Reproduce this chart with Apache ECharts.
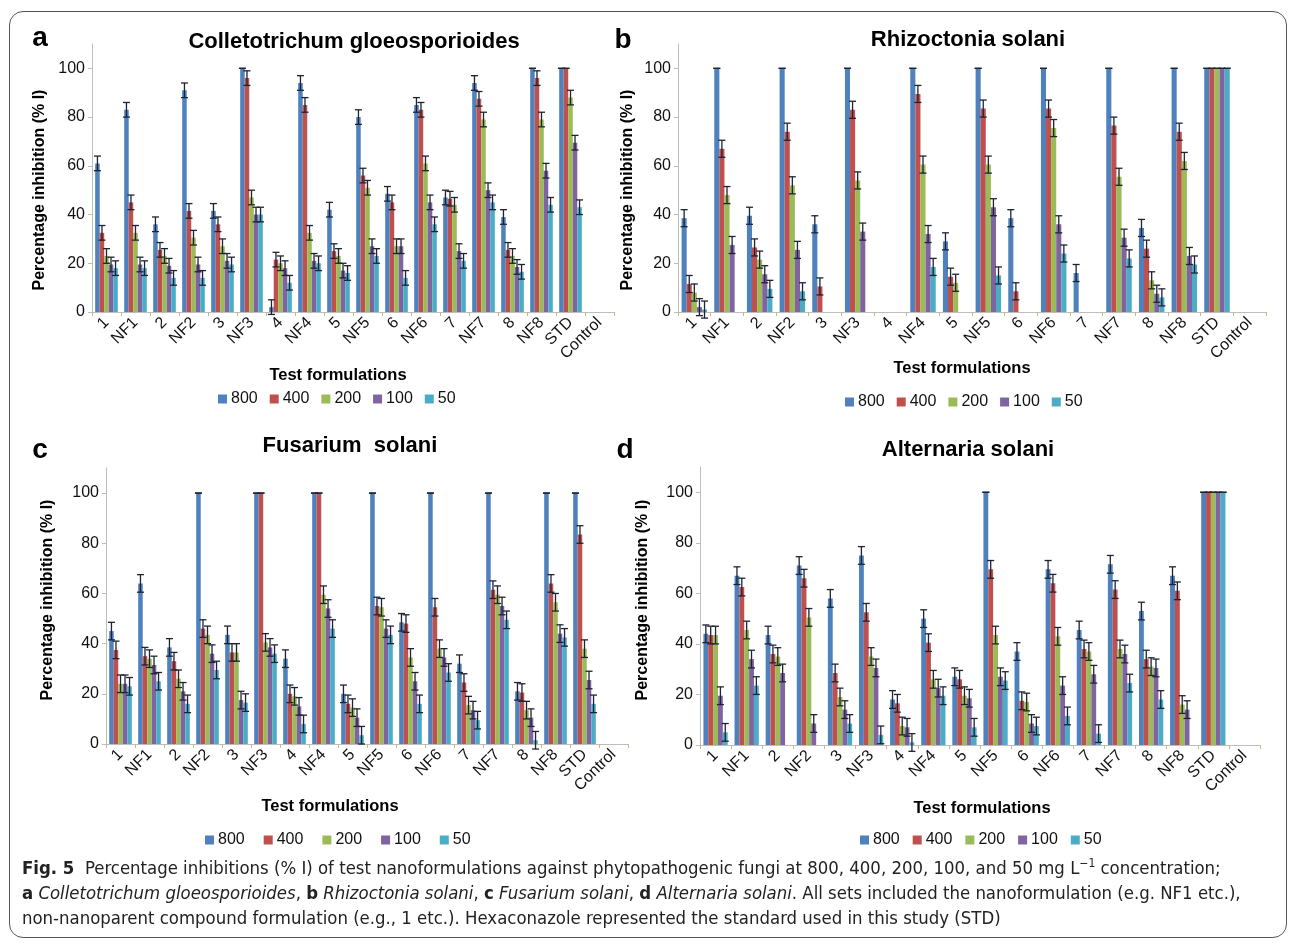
<!DOCTYPE html>
<html><head><meta charset="utf-8">
<script src="https://cdn.jsdelivr.net/npm/echarts@6/dist/echarts.min.js"></script>
<style>
html,body{margin:0;padding:0;background:#fff;}
#chart{position:absolute;left:0;top:0;width:1295px;height:944px;}
#frame{position:absolute;left:9px;top:11px;width:1276px;height:925px;border:1px solid #555;border-radius:14px;pointer-events:none;}
#caption{position:absolute;left:22px;top:855px;font-family:'Liberation Sans Narrow','DejaVu Sans Condensed','Liberation Sans',sans-serif;font-size:18.4px;line-height:25px;color:#222;white-space:nowrap;}
#caption sup{font-size:12px;line-height:0;}
</style></head><body>
<div id="chart"></div>
<div id="frame"></div>
<div id="caption"><b>Fig. 5</b>&nbsp; Percentage inhibitions (% I) of test nanoformulations against phytopathogenic fungi at 800, 400, 200, 100, and 50 mg L<sup>&minus;1</sup> concentration;<br><b>a</b> <i>Colletotrichum gloeosporioides</i>, <b>b</b> <i>Rhizoctonia solani</i>, <b>c</b> <i>Fusarium solani</i>, <b>d</b> <i>Alternaria solani</i>. All sets included the nanoformulation (e.g. NF1 etc.),<br>non-nanoparent compound formulation (e.g., 1 etc.). Hexaconazole represented the standard used in this study (STD)</div>
<script>
// ---------- DATA ----------
const categories = ['1','NF1','2','NF2','3','NF3','4','NF4','5','NF5','6','NF6','7','NF7','8','NF8','STD','Control'];
const concentrations = ['800','400','200','100','50'];
const yTicks = [0,20,40,60,80,100];

// a: Colletotrichum gloeosporioides
const a800 = [61, 83, 36, 91, 41.5, 100, 2, 94, 42, 80, 48.5, 85, 47, 94, 39, 100, 100, 0];
const a400 = [32.5, 45, 25.5, 41.5, 36, 96, 21.5, 85, 25, 56, 45, 83, 46.5, 87.5, 25.5, 96, 100, 0];
const a200 = [23, 32.5, 23, 30.5, 27, 47, 20, 32.5, 23, 51, 27, 61, 44, 79, 23, 79, 88, 0];
const a100 = [19.5, 19.5, 19, 19.5, 21, 40, 18, 21, 17, 27, 27, 45, 25, 50, 18.5, 58, 69.5, 0];
const a50  = [18, 18, 14, 14, 19.5, 40, 12, 20, 16, 23, 14, 36, 21, 45, 16.5, 44, 43, 0];
const errA = 3;

// b: Rhizoctonia solani
const b800 = [38.5, 100, 39.5, 100, 36, 100, 0, 100, 29, 100, 38.5, 100, 16, 100, 34.5, 100, 100, 0];
const b400 = [11.5, 67, 26.5, 74, 10.5, 83, 0, 89.5, 14.5, 83.5, 8.5, 83.5, 0, 76.5, 26, 74, 100, 0];
const b200 = [8, 48, 21.5, 52, 0, 54, 0, 60.5, 12, 60.5, 0, 75.5, 0, 55.5, 13, 62, 100, 0];
const b100 = [2, 27.5, 15.5, 25.5, 0, 33, 0, 32, 0, 43, 0, 36, 0, 30.5, 7.5, 23, 100, 0];
const b50  = [1, 0, 9.5, 8.5, 0, 0, 0, 18.5, 0, 15, 0, 24, 0, 22, 6, 19.5, 100, 0];
const errB = 3.5;

// c: Fusarium solani
const c800 = [45, 64, 38.5, 100, 43.5, 100, 34, 100, 20, 100, 48.5, 100, 32, 100, 21, 100, 100, 0];
const c400 = [37.5, 35, 33, 46, 36.5, 100, 20, 100, 16, 55, 48, 54.5, 24.5, 61.5, 20.5, 64, 83.5, 0];
const c200 = [24, 34, 26, 43.5, 36.5, 40.5, 19, 59.5, 14.5, 54.5, 34.5, 38, 15.5, 59.5, 13.5, 56.5, 38, 0];
const c100 = [24, 31.5, 21, 36, 17.5, 38.5, 15, 54, 10.5, 46, 25, 34.5, 13.5, 55, 10.5, 44, 25.5, 0];
const c50  = [23, 25, 16, 29.5, 16.5, 36, 8, 46, 3.5, 43.5, 16, 28.5, 9.5, 49.5, 1.5, 42.5, 16, 0];
const errC = 3.5;

// d: Alternaria solani
const d800 = [44, 67, 43.5, 71, 58, 75, 18, 50, 27, 100, 37, 69.5, 45.5, 71.5, 53, 67, 100, 0];
const d400 = [43.5, 62.5, 36, 66, 28.5, 52.5, 16.5, 40.5, 26, 69.5, 17.5, 64, 38, 61.5, 34, 61, 100, 0];
const d200 = [43.5, 45.5, 35, 50.5, 19, 35, 7.5, 26, 19.5, 43.5, 17, 43, 37, 38, 31, 16, 100, 0];
const d100 = [19.5, 34, 28.5, 8.5, 14, 30.5, 7, 22.5, 18.5, 27, 8.5, 23.5, 28, 36, 30.5, 14, 100, 0];
const d50  = [5, 23.5, 0, 0, 8.5, 4, 1, 19.5, 7, 25.5, 7.5, 11.5, 4.5, 24.5, 18, 0, 100, 0];
const errD = 3.5;

// ---------- STYLE / LAYOUT ----------
const colors = ['#4F81BD','#C0504D','#9BBB59','#8064A2','#4BACC6'];
const FONT = "'Liberation Sans', Arial, sans-serif";
const GAP = 0.22;
const panels = [
  {letter:'a', title:'Colletotrichum gloeosporioides', series:[a800,a400,a200,a100,a50], err:errA,
   grid:{left:92, top:44, width:522, height:268}, letterPos:[40,38], titlePos:[354,42],
   yNamePos:[40,190], xNamePos:[338,375], legend:{left:213, top:386, gap:12}},
  {letter:'b', title:'Rhizoctonia solani', series:[b800,b400,b200,b100,b50], err:errB,
   grid:{left:678, top:44, width:588, height:268}, letterPos:[623,40], titlePos:[968,40],
   yNamePos:[628,190], xNamePos:[962,368], legend:{left:840, top:389, gap:12}},
  {letter:'c', title:'Fusarium  solani', series:[c800,c400,c200,c100,c50], err:errC,
   grid:{left:106, top:468, width:522, height:276}, letterPos:[40,450], titlePos:[350,446],
   yNamePos:[48,600], xNamePos:[330,806], legend:{left:200, top:827, gap:19}},
  {letter:'d', title:'Alternaria solani', series:[d800,d400,d200,d100,d50], err:errD,
   grid:{left:700, top:467, width:560, height:278}, letterPos:[625,450], titlePos:[968,450],
   yNamePos:[643,600], xNamePos:[982,808], legend:{left:855, top:827, gap:13}}
];

function errRenderer(k, n) {
  return function (params, api) {
    const xi = api.value(0), v = api.value(1), e = api.value(2);
    if (!(v > 0)) return null;
    const p = api.coord([xi, v]);
    const W = api.size([1, 0])[0];
    const cluster = W * (1 - GAP);
    const bw = cluster / n;
    const cx = p[0] - cluster / 2 + (k + 0.5) * bw;
    const yt = api.coord([xi, v + e])[1];
    const yb = api.coord([xi, v - e])[1];
    const hw = 3.5;
    const st = {stroke:'#1d2333', lineWidth:1.3};
    const kids = [
      {type:'line', shape:{x1:cx, y1:yt, x2:cx, y2:yb}, style:st},
      {type:'line', shape:{x1:cx-hw, y1:yt, x2:cx+hw, y2:yt}, style:st},
      {type:'line', shape:{x1:cx-hw, y1:yb, x2:cx+hw, y2:yb}, style:st}
    ];
    return {type:'group', children:kids};
  };
}

const grids = [], xAxes = [], yAxes = [], series = [], legends = [], graphics = [];
panels.forEach((pn, gi) => {
  grids.push(pn.grid);
  xAxes.push({
    type:'category', gridIndex:gi, data:categories,
    axisLine:{lineStyle:{color:'#bdbdbd'}},
    axisTick:{show:true, length:4, lineStyle:{color:'#c8b890'}},
    axisLabel:{rotate:45, fontSize:16, color:'#111', fontFamily:FONT, margin:8, interval:0}
  });
  yAxes.push({
    type:'value', gridIndex:gi, min:0, max:110, interval:10,
    splitLine:{show:false},
    axisLine:{show:true, lineStyle:{color:'#bdbdbd'}},
    axisTick:{show:true, length:4, lineStyle:{color:'#bdbdbd'}, customValues:yTicks},
    axisLabel:{fontSize:16, color:'#111', fontFamily:FONT, margin:7, customValues:yTicks}
  });
  pn.series.forEach((vals, k) => {
    series.push({
      type:'bar', name:concentrations[k], xAxisIndex:gi, yAxisIndex:gi,
      data:vals, barGap:'0%', barCategoryGap:(GAP*100)+'%',
      itemStyle:{color:colors[k]}, emphasis:{disabled:true}, animation:false
    });
  });
  pn.series.forEach((vals, k) => {
    series.push({
      type:'custom', name:'err'+gi+'_'+k, xAxisIndex:gi, yAxisIndex:gi,
      renderItem:errRenderer(k, pn.series.length),
      data:vals.map((v, i) => [i, v, v >= 100 ? 0 : pn.err]),
      z:5, animation:false, silent:true
    });
  });
  legends.push({
    data:concentrations, left:pn.legend.left, top:pn.legend.top,
    itemGap:pn.legend.gap, icon:'rect', itemWidth:9, itemHeight:9,
    textStyle:{fontSize:16, color:'#111', fontFamily:FONT, padding:[0,0,0,-1]},
    selectedMode:false
  });
  graphics.push(
    {type:'text', x:pn.letterPos[0], y:pn.letterPos[1],
     style:{text:pn.letter, font:'bold 28px '+FONT, fill:'#000', textAlign:'center', textVerticalAlign:'middle'}},
    {type:'text', x:pn.titlePos[0], y:pn.titlePos[1],
     style:{text:pn.title, font:'bold 22px '+FONT, fill:'#000', textAlign:'center', textVerticalAlign:'middle'}},
    {type:'text', x:pn.yNamePos[0], y:pn.yNamePos[1], rotation:Math.PI/2,
     style:{text:'Percentage inhibition (% I)', font:'bold 16px '+FONT, fill:'#000', textAlign:'center', textVerticalAlign:'middle'}},
    {type:'text', x:pn.xNamePos[0], y:pn.xNamePos[1],
     style:{text:'Test formulations', font:'bold 16.5px '+FONT, fill:'#000', textAlign:'center', textVerticalAlign:'middle'}}
  );
});

const chart = echarts.init(document.getElementById('chart'), null, {renderer:'canvas'});
chart.setOption({
  backgroundColor:'#fff',
  animation:false,
  textStyle:{fontFamily:FONT},
  grid:grids, xAxis:xAxes, yAxis:yAxes, series:series, legend:legends, graphic:graphics
});
</script>
</body></html>
